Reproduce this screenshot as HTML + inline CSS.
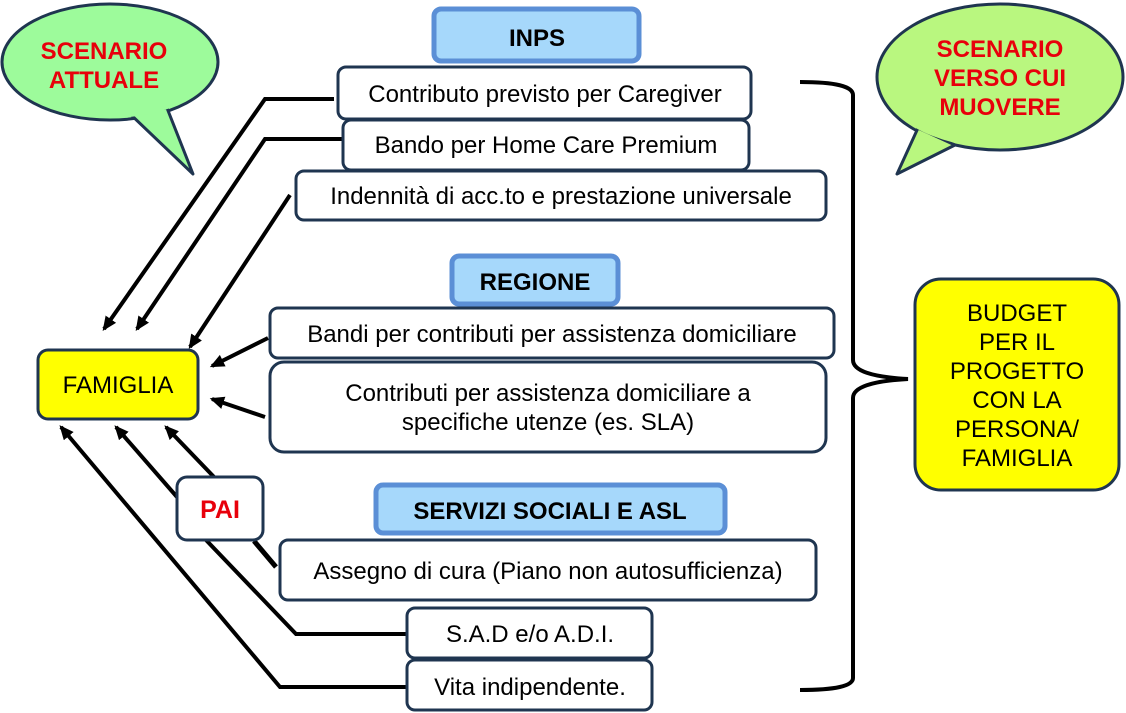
<!DOCTYPE html>
<html><head><meta charset="utf-8"><style>
html,body{margin:0;padding:0;background:#fff;width:1126px;height:713px;overflow:hidden}
svg text{font-family:"Liberation Sans",sans-serif}
</style></head><body>
<svg width="1126" height="713" viewBox="0 0 1126 713" xmlns="http://www.w3.org/2000/svg">
<defs>
<marker id="ah" markerWidth="4" markerHeight="4" refX="3" refY="1.6" orient="auto" markerUnits="strokeWidth">
<path d="M0,0 L3.6,1.6 L0,3.2 Z" fill="#000"/></marker>
</defs>
<!-- bubbles -->
<g stroke="#1f3550" stroke-width="3" stroke-linejoin="round">
<ellipse cx="110" cy="62" rx="108" ry="58" fill="#9dfb9b"/>
<path d="M128,112 L193,174 L167,108 Z" fill="#9dfb9b"/>
<ellipse cx="1000" cy="77" rx="123" ry="73" fill="#b9f77f"/>
<path d="M918,128 L897,174 L955,145 Z" fill="#b9f77f"/>
</g>
<ellipse cx="110" cy="62" rx="106" ry="56" fill="#9dfb9b"/>
<ellipse cx="1000" cy="77" rx="121" ry="71" fill="#b9f77f"/>
<g font-weight="bold" font-size="24" fill="#e8000b" text-anchor="middle">
<text x="104" y="59">SCENARIO</text><text x="104" y="88">ATTUALE</text>
<text x="1000" y="57">SCENARIO</text><text x="1000" y="86">VERSO CUI</text><text x="1000" y="115">MUOVERE</text>
</g>
<!-- connectors -->
<g stroke="#000" stroke-width="4" fill="none">
<path d="M334,99 L265,99 L104,329" marker-end="url(#ah)"/>
<path d="M345,139 L265,139 L137,329" marker-end="url(#ah)"/>
<path d="M290,195 L190,347" marker-end="url(#ah)"/>
<path d="M268,338 L212,366" marker-end="url(#ah)"/>
<path d="M265,417 L212,399" marker-end="url(#ah)"/>
<path d="M214,477 L166,427" marker-end="url(#ah)"/>
<path d="M177,497 L116,427" marker-end="url(#ah)"/>
<path d="M407,634 L296,634 L206,540"/>
<path d="M407,687 L280,687 L61,427" marker-end="url(#ah)"/>
<path d="M276,567 L254,541" stroke-width="5"/>
<path d="M800,82 Q853,82 853,95 L853,360 Q853,376 908,379 Q853,382 853,398 L853,678 Q853,690 800,690" stroke-width="4"/>
</g>
<!-- headers -->
<g fill="#a6d8fb" stroke="#5b8fd6" stroke-width="5">
<rect x="434" y="9" width="205" height="52" rx="7"/>
<rect x="452" y="256" width="166" height="48" rx="7"/>
<rect x="376" y="485" width="349" height="48" rx="7"/>
</g>
<g font-weight="bold" font-size="24" fill="#000" text-anchor="middle">
<text x="537" y="46">INPS</text><text x="535" y="290">REGIONE</text><text x="550" y="519">SERVIZI SOCIALI E ASL</text>
</g>
<!-- boxes -->
<g fill="#fff" stroke="#1f3550" stroke-width="3">
<rect x="338" y="67" width="413" height="52" rx="8"/>
<rect x="343" y="120" width="406" height="50" rx="8"/>
<rect x="296" y="171" width="530" height="49" rx="8"/>
<rect x="270" y="308" width="564" height="50" rx="8"/>
<rect x="270" y="362" width="556" height="90" rx="14"/>
<rect x="280" y="540" width="536" height="60" rx="8"/>
<rect x="407" y="608" width="245" height="50" rx="8"/>
<rect x="407" y="660" width="245" height="50" rx="8"/>
<rect x="177" y="477" width="86" height="63" rx="10"/>
<rect x="38" y="350" width="160" height="69" rx="10" fill="#ffff00"/>
<rect x="915" y="279" width="204" height="211" rx="26" fill="#ffff00"/>
</g>
<g font-size="24" fill="#000" text-anchor="middle">
<text x="545" y="102">Contributo previsto per Caregiver</text>
<text x="546" y="153">Bando per Home Care Premium</text>
<text x="561" y="204">Indennità di acc.to e prestazione universale</text>
<text x="552" y="342">Bandi per contributi per assistenza domiciliare</text>
<text x="548" y="401">Contributi per assistenza domiciliare a</text>
<text x="548" y="430">specifiche utenze (es. SLA)</text>
<text x="548" y="579">Assegno di cura (Piano non autosufficienza)</text>
<text x="530" y="642">S.A.D e/o A.D.I.</text>
<text x="530" y="695">Vita indipendente.</text>
<text x="118" y="393">FAMIGLIA</text>
<text x="1017" y="321">BUDGET</text><text x="1017" y="350">PER IL</text><text x="1017" y="379">PROGETTO</text>
<text x="1017" y="408">CON LA</text><text x="1017" y="437">PERSONA/</text><text x="1017" y="466">FAMIGLIA</text>
</g>
<text x="220" y="518" font-size="25" font-weight="bold" fill="#e8000b" text-anchor="middle">PAI</text>
</svg>
</body></html>
